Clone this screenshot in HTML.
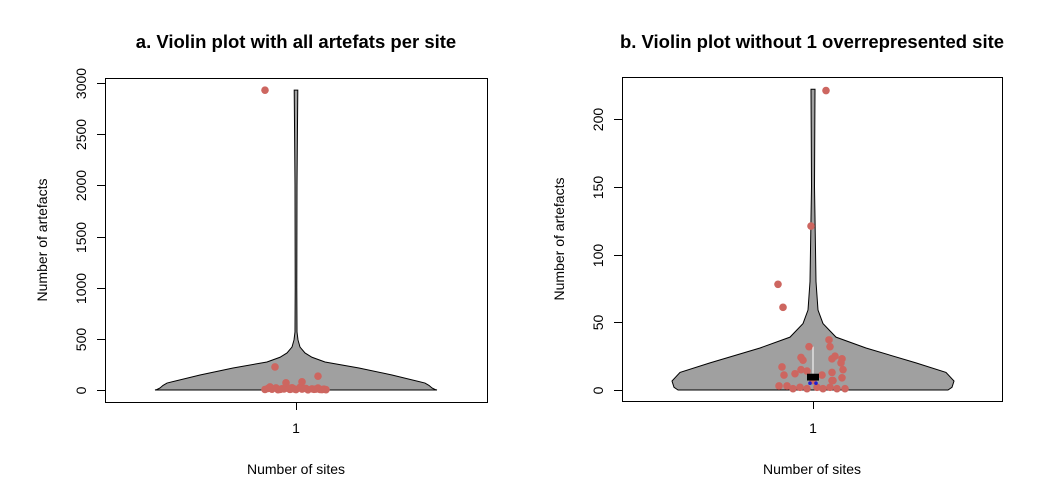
<!DOCTYPE html>
<html><head><meta charset="utf-8">
<style>
html,body{margin:0;padding:0;background:#fff;}
svg{display:block;font-family:"Liberation Sans",Arial,sans-serif;}
</style></head>
<body>
<svg id="chart" width="1044" height="499" viewBox="0 0 1044 499" xmlns="http://www.w3.org/2000/svg"></svg>
<script>
// ---- Panel a data ----
const aTicks = [0, 500, 1000, 1500, 2000, 2500, 3000];
const aDensVals = [0, 5, 20, 45, 68, 147, 215, 274, 320, 362, 420, 489, 567, 1000, 2000, 2600, 2930];
const aDensHalf = [141, 139, 136, 133, 129, 96, 63, 29, 16, 9, 4, 2, 1, 0.8, 1, 1.5, 1.8];
const aPtOff = [-31,-24,-18,-12,-6,0,6,12,18,24,30,-28,-20,-14,-8,-2,4,10,16,22,28,-26,-16,-4,8,20,26,-31,22,-21,-10,6];
const aPtVal = [5,8,3,10,6,4,9,2,7,5,3,15,20,12,18,10,25,14,11,19,8,30,6,22,16,9,4,2930,135,225,70,80];
// ---- Panel b data ----
const bTicks = [0, 50, 100, 150, 200];
const bDensVals = [0, 2, 6.6, 13, 20, 31, 39, 49, 59, 80, 150, 222];
const bDensHalf = [135, 139, 141, 133, 103, 53, 23, 10, 5, 3, 1.5, 2];
const bPtOff = [-35,-30,-2,13,-4,16,17,-12,-10,19,22,29,28,-31,30,-29,-18,-12,-6,19,9,29,19,-34,-26,-20,-13,-6,0,4,10,17,24,32,20];
const bPtVal = [78,61,121,221,32,37,32,24,22,23,25,23,20,17,15,11,12,15,14,13,11,9,7,3,3,1,2,1,7,2,1,2,1,1,7];

const svg = document.getElementById('chart');
const NS = 'http://www.w3.org/2000/svg';
function mk(tag, attrs, parent) {
  const e = document.createElementNS(NS, tag);
  for (const k in attrs) e.setAttribute(k, attrs[k]);
  (parent || svg).appendChild(e);
  return e;
}

function panel(cfg) {
  const g = mk('g', {});
  
  
  const y = v => cfg.y0 - v * cfg.scale;
  const cx = cfg.cx;
  const t = mk('text', {x: (cfg.L + cfg.R) / 2, y: 48, 'text-anchor': 'middle', 'font-size': 18.5, 'font-weight': 'bold', fill: '#000'}, g);
  t.textContent = cfg.title;
  
  
  let left = [], right = [];
  for (let i = 0; i < cfg.dv.length; i++) {
    left.push((cx - cfg.dh[i]) + ',' + y(cfg.dv[i]));
    right.unshift((cx + cfg.dh[i]) + ',' + y(cfg.dv[i]));
  }
  const vi = mk('polygon', {points: left.concat(right).join(' '), fill: '#a0a0a0', stroke: '#000', 'stroke-width': 1}, g);
  
  
  if (cfg.box) {
    const w = mk('line', {x1: cx, x2: cx, y1: y(32), y2: y(12), stroke: '#fff', 'stroke-width': 1}, g);
    
    
  }
  for (let i = 0; i < cfg.pv.length; i++) {
    const c = mk('circle', {cx: cx + cfg.po[i], cy: y(cfg.pv[i]), r: 3.8, fill: '#cd6660'}, g);
    
    
  }
  if (cfg.box) {
    const b = mk('rect', {x: cx - 6, y: y(12), width: 12, height: y(7) - y(12), fill: '#000'}, g);
    
    
    const m = mk('circle', {cx: cx - 3, cy: y(5), r: 1.8, fill: '#1f1fd0'}, g);
    
    
    const m2 = mk('circle', {cx: cx + 3, cy: y(5), r: 1.8, fill: '#1f1fd0'}, g);
    
    
  }
  const f = mk('rect', {x: cfg.L + 0.5, y: cfg.T + 0.5, width: cfg.R - cfg.L, height: cfg.B - cfg.T, fill: 'none', stroke: '#000', 'stroke-width': 1}, g);
  
  
  cfg.ticks.forEach(v => {
    const yy = Math.round(y(v)) + 0.5;
    const tl = mk('line', {x1: cfg.L - 8, x2: cfg.L, y1: yy, y2: yy, stroke: '#000'}, g);
    
    
    const lx = cfg.L - 19;
    const tx = mk('text', {x: lx, y: yy, 'text-anchor': 'middle', 'font-size': 14, fill: '#000', transform: 'rotate(-90 ' + lx + ' ' + yy + ')'}, g);
    tx.textContent = v;
    
    
  });
  const xt = mk('line', {x1: cx + 0.5, x2: cx + 0.5, y1: cfg.B, y2: cfg.B + 8, stroke: '#000'}, g);
  
  
  const xl = mk('text', {x: cx, y: 433, 'text-anchor': 'middle', 'font-size': 14, fill: '#000'}, g);
  xl.textContent = '1';
  
  
  const xa = mk('text', {x: (cfg.L + cfg.R) / 2, y: 474, 'text-anchor': 'middle', 'font-size': 14, fill: '#000'}, g);
  xa.textContent = 'Number of sites';
  
  
  const yx = cfg.L - 58, ym = (cfg.T + cfg.B) / 2;
  const ya = mk('text', {x: yx, y: ym, 'text-anchor': 'middle', 'font-size': 14, fill: '#000', transform: 'rotate(-90 ' + yx + ' ' + ym + ')'}, g);
  ya.textContent = 'Number of artefacts';
  
  
}

panel({name: 'panel-a', title: 'a. Violin plot with all artefats per site', L: 105, R: 487, T: 78, B: 402,
  y0: 390, scale: 307 / 3000, cx: 296, ticks: aTicks, dv: aDensVals, dh: aDensHalf, po: aPtOff, pv: aPtVal, box: false});
panel({name: 'panel-b', title: 'b. Violin plot without 1 overrepresented site', L: 622, R: 1002, T: 77, B: 401,
  y0: 390, scale: 271 / 200, cx: 813, ticks: bTicks, dv: bDensVals, dh: bDensHalf, po: bPtOff, pv: bPtVal, box: true});
</script>
</body></html>
